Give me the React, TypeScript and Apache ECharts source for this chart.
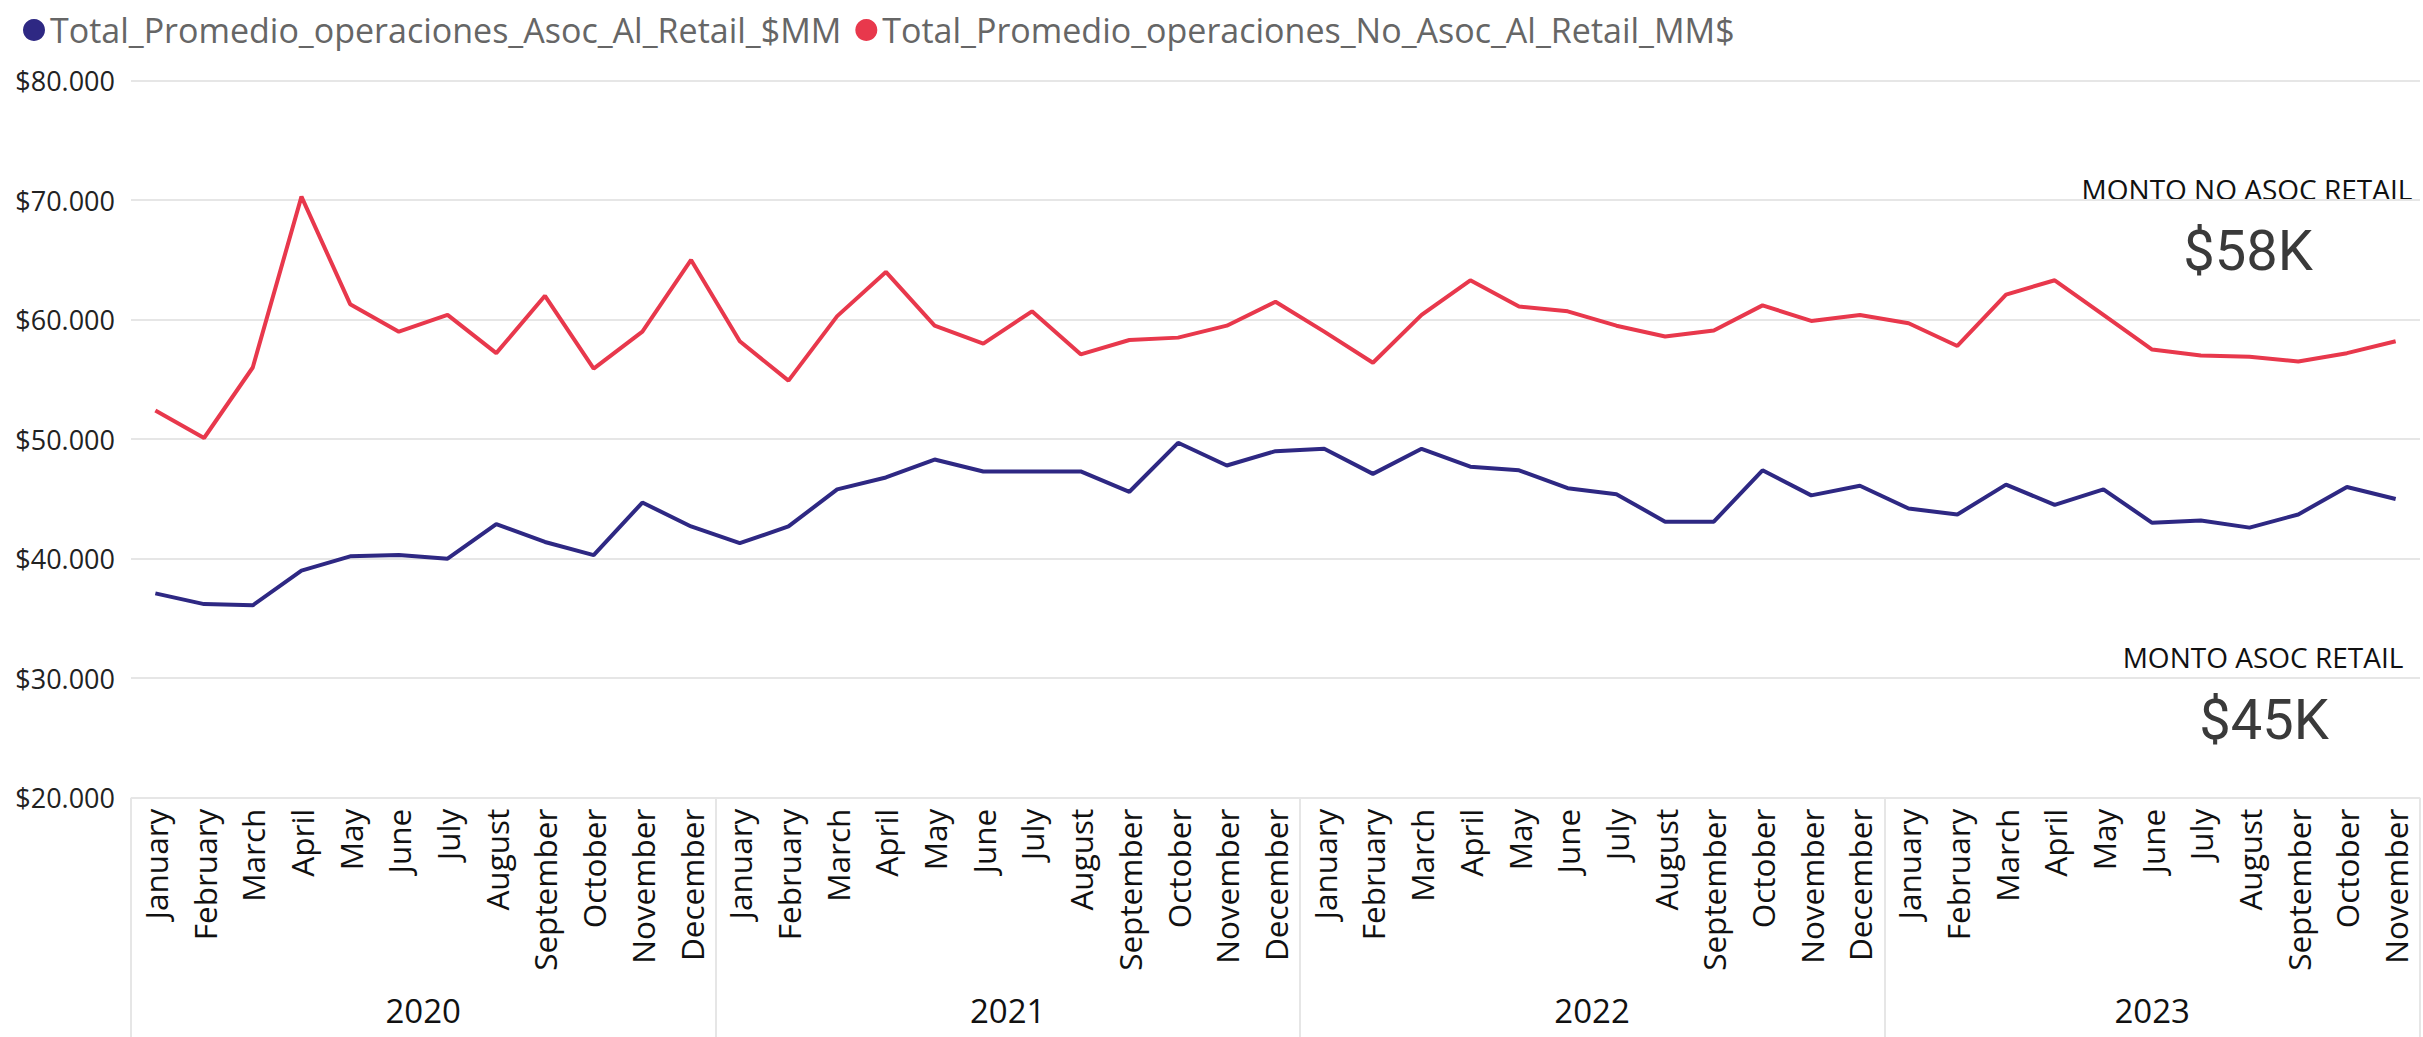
import React, { useEffect, useRef } from "react";
import * as echarts from "echarts";

const years = ["2020", "2021", "2022", "2023"];
const monthsPerYear = [12, 12, 12, 11];
const monthNames = [
  "January", "February", "March", "April", "May", "June",
  "July", "August", "September", "October", "November", "December",
];

const seriesNames = [
  "Total_Promedio_operaciones_Asoc_Al_Retail_$MM",
  "Total_Promedio_operaciones_No_Asoc_Al_Retail_MM$",
];

const asocRetail = [
  37100, 36200, 36100, 39000, 40200, 40300, 40000, 42900, 41400, 40300, 44700, 42700,
  41300, 42700, 45800, 46800, 48300, 47300, 47300, 47300, 45600, 49700, 47800, 49000,
  49200, 47100, 49200, 47700, 47400, 45900, 45400, 43100, 43100, 47400, 45300, 46100,
  44200, 43700, 46200, 44500, 45800, 43000, 43200, 42600, 43700, 46000, 45000,
];

const noAsocRetail = [
  52400, 50100, 56000, 70300, 61300, 59000, 60400, 57200, 62000, 55900, 59000, 65000,
  58200, 54900, 60300, 64000, 59500, 58000, 60700, 57100, 58300, 58500, 59500, 61500,
  59000, 56400, 60400, 63300, 61100, 60700, 59500, 58600, 59100, 61200, 59900, 60400,
  59700, 57800, 62100, 63300, 60400, 57500, 57000, 56900, 56500, 57200, 58200,
];

const yMin = 20000;
const yMax = 80000;
const yInterval = 10000;

const cardTitles = ["MONTO NO ASOC RETAIL", "MONTO ASOC RETAIL"];

const colors = ["#2E2883", "#E8384C"];

export default function App() {
  const ref = useRef<HTMLDivElement>(null);

  useEffect(() => {
    if (!ref.current) return;
    const chart = echarts.init(ref.current, undefined, { renderer: "svg" });

    const categories: string[] = [];
    years.forEach((y, yi) => {
      for (let m = 0; m < monthsPerYear[yi]; m++) categories.push(y + "|" + monthNames[m]);
    });
    const total = categories.length;

    const yearCenters: Record<string, string> = {};
    let start = 0;
    years.forEach((y, yi) => {
      yearCenters[String(start + monthsPerYear[yi] / 2)] = y;
      start += monthsPerYear[yi];
    });
    const yearStarts = new Set<number>();
    let s2 = 0;
    monthsPerYear.forEach((n) => {
      yearStarts.add(s2);
      s2 += n;
    });

    const fmtK = (v: number) => "$" + Math.round(v / 1000) + "K";
    const lastNo = noAsocRetail[noAsocRetail.length - 1];
    const lastAsoc = asocRetail[asocRetail.length - 1];

    const option: any = {
      animation: false,
      backgroundColor: "#ffffff",
      color: colors,
      legend: {
        show: true,
        left: 18,
        top: 8,
        icon: "circle",
        itemWidth: 22,
        itemHeight: 22,
        itemGap: 14,
        selectedMode: false,
        textStyle: {
          color: "#666666",
          fontFamily: "Open Sans",
          fontSize: 34,
        },
        data: seriesNames,
      },
      grid: {
        left: 131,
        right: 0,
        top: 80.7,
        bottom: 239.3,
        containLabel: false,
      },
      xAxis: [
        {
          type: "category",
          data: categories,
          boundaryGap: true,
          axisLine: { show: false },
          axisTick: {
            show: true,
            interval: (index: number) => yearStarts.has(index),
            length: 240,
            lineStyle: { color: "#E6E6E6", width: 2 },
          },
          axisLabel: {
            interval: 0,
            rotate: 90,
            margin: 11,
            color: "#111111",
            fontFamily: "Open Sans",
            fontSize: 31.5,
            formatter: (v: string) => v.split("|")[1],
          },
          splitLine: { show: false },
        },
        {
          type: "value",
          position: "bottom",
          min: 0,
          max: total,
          interval: 0.5,
          axisLine: { show: false },
          axisTick: { show: false },
          splitLine: { show: false },
          axisLabel: {
            show: true,
            margin: 196,
            color: "#111111",
            fontFamily: "Open Sans",
            fontSize: 33,
            showMinLabel: true,
            showMaxLabel: true,
            formatter: (v: number) => yearCenters[String(v)] || "",
          },
        },
      ],
      yAxis: {
        type: "value",
        min: yMin,
        max: yMax,
        interval: yInterval,
        axisLine: { show: false },
        axisTick: { show: false },
        axisLabel: {
          margin: 16,
          color: "#222222",
          fontFamily: "Open Sans",
          fontSize: 27,
          formatter: (v: number) => "$" + v / 1000 + ".000",
        },
        splitLine: { show: true, lineStyle: { color: "#E6E6E6", width: 2 } },
      },
      series: [
        {
          name: seriesNames[0],
          type: "line",
          data: asocRetail,
          xAxisIndex: 0,
          symbol: "none",
          lineStyle: { width: 4, color: colors[0] },
          itemStyle: { color: colors[0] },
        },
        {
          name: seriesNames[1],
          type: "line",
          data: noAsocRetail,
          xAxisIndex: 0,
          symbol: "none",
          lineStyle: { width: 4, color: colors[1] },
          itemStyle: { color: colors[1] },
        },
      ],
      graphic: [
        {
          type: "text",
          x: 2247,
          y: 189,
          style: {
            text: cardTitles[0],
            fill: "#111111",
            font: "28px 'Open Sans'",
            textAlign: "center",
            textVerticalAlign: "middle",
          },
        },
        {
          type: "text",
          x: 2248,
          y: 251,
          style: {
            text: fmtK(lastNo),
            fill: "#3A3A3A",
            font: "56px Roboto",
            textAlign: "center",
            textVerticalAlign: "middle",
          },
        },
        {
          type: "text",
          x: 2263,
          y: 657,
          style: {
            text: cardTitles[1],
            fill: "#111111",
            font: "28px 'Open Sans'",
            textAlign: "center",
            textVerticalAlign: "middle",
          },
        },
        {
          type: "text",
          x: 2264,
          y: 720,
          style: {
            text: fmtK(lastAsoc),
            fill: "#3A3A3A",
            font: "56px Roboto",
            textAlign: "center",
            textVerticalAlign: "middle",
          },
        },
      ],
    };

    chart.setOption(option);
    return () => chart.dispose();
  }, []);

  return (
    <div
      ref={ref}
      style={{ position: "fixed", left: 0, top: 0, width: 2423, height: 1037, background: "#fff" }}
    />
  );
}
